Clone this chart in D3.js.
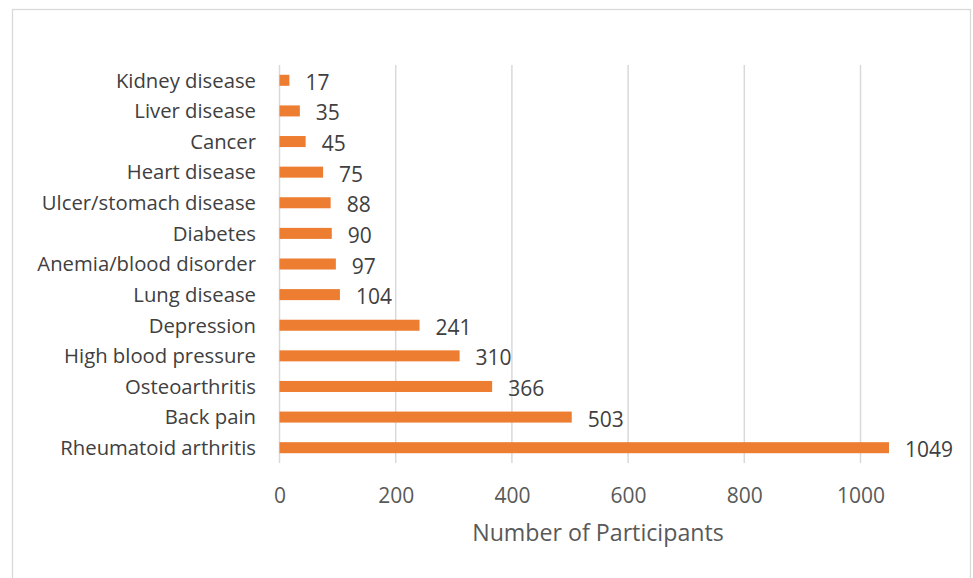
<!DOCTYPE html>
<html>
<head>
<meta charset="utf-8">
<script src="https://cdn.jsdelivr.net/npm/d3@7"></script>
<style>
  html, body { margin: 0; padding: 0; background: #fff; }
  svg { display: block; }
  text { font-family: "Open Sans", Lato, sans-serif; }
</style>
</head>
<body>
<svg id="chart" width="973" height="578"></svg>
<script>
const categories = ["Kidney disease", "Liver disease", "Cancer", "Heart disease",
  "Ulcer/stomach disease", "Diabetes", "Anemia/blood disorder", "Lung disease",
  "Depression", "High blood pressure", "Osteoarthritis", "Back pain", "Rheumatoid arthritis"];
const participants = [17, 35, 45, 75, 88, 90, 97, 104, 241, 310, 366, 503, 1049];
const xTicks = [0, 200, 400, 600, 800, 1000];
const xTitle = "Number of Participants";

const FONT = "'Open Sans', Lato, sans-serif";
const svg = d3.select("#chart");

svg.append("rect")
  .attr("x", 12.5).attr("y", 9.5)
  .attr("width", 958).attr("height", 600)
  .attr("fill", "none").attr("stroke", "#d9d9d9").attr("stroke-width", 1.3);

const x = d3.scaleLinear().domain([0, 1000]).range([279.5, 860.5]);
const y = d3.scaleBand().domain(categories).range([65, 463])
  .paddingInner(0.64).paddingOuter(0.32);

// gridlines
svg.append("g").selectAll("line").data(xTicks).join("line")
  .attr("x1", d => x(d)).attr("x2", d => x(d))
  .attr("y1", 65).attr("y2", 463)
  .attr("stroke", "#d9d9d9").attr("stroke-width", 1.5);

// x axis tick labels
const xAxis = d3.axisBottom(x).tickValues(xTicks).tickFormat(d3.format("d"))
  .tickSize(0).tickPadding(0);
const gx = svg.append("g").attr("transform", "translate(0,488)").call(xAxis);
gx.select(".domain").remove();
gx.selectAll("text")
  .attr("fill", "#595959").attr("font-size", 21)
  .attr("dy", "0.36em").attr("y", 7)
  .style("font-family", FONT);

// y axis labels
const yAxis = d3.axisLeft(y).tickSize(0).tickPadding(0);
const gy = svg.append("g").attr("transform", "translate(256,0)").call(yAxis);
gy.select(".domain").remove();
gy.selectAll("text")
  .attr("fill", "#404040").attr("font-size", 20.3)
  .attr("dy", "0.36em")
  .style("font-family", FONT);

// bars
svg.append("g").selectAll("rect").data(categories).join("rect")
  .attr("x", x(0))
  .attr("y", d => y(d))
  .attr("width", (d, i) => x(participants[i]) - x(0))
  .attr("height", y.bandwidth())
  .attr("fill", "#ED7D31");

// value labels
svg.append("g").selectAll("text").data(categories).join("text")
  .attr("x", (d, i) => x(participants[i]) + 16)
  .attr("y", d => y(d) + y.bandwidth() / 2 + 2)
  .attr("dy", "0.36em")
  .attr("fill", "#404040").attr("font-size", 21)
  .text((d, i) => participants[i]);

// axis title
svg.append("text")
  .attr("x", 598).attr("y", 533)
  .attr("dy", "0.36em")
  .attr("text-anchor", "middle")
  .attr("fill", "#595959").attr("font-size", 23.2)
  .text(xTitle);
</script>
</body>
</html>
